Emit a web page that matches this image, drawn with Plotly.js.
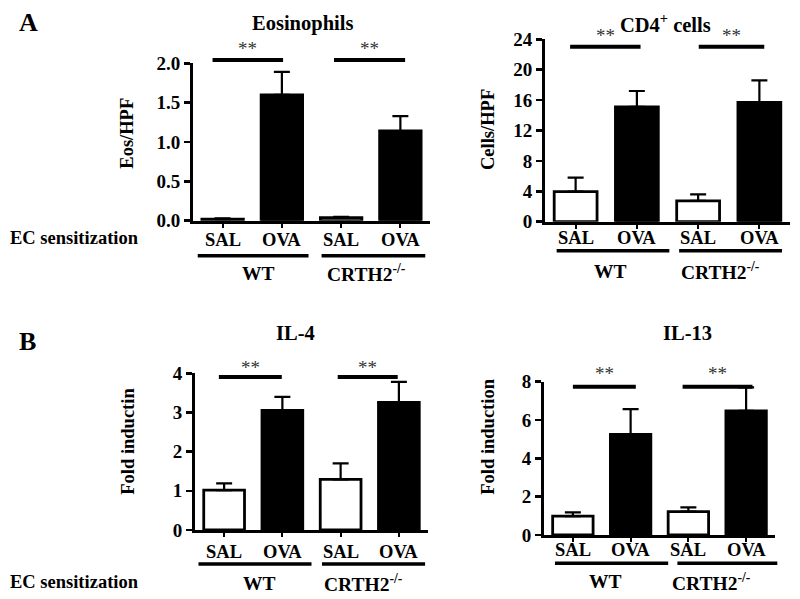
<!DOCTYPE html>
<html><head><meta charset="utf-8">
<script src="https://cdn.plot.ly/plotly-3.0.1.min.js"></script>
<style>html,body{margin:0;padding:0;background:#fff}#chart{width:800px;height:599px}</style>
</head><body><div id="chart"></div>
<script>
// ---- data ----
const categories = ['SAL', 'OVA', 'SAL', 'OVA'];
const groups = ['WT', 'CRTH2<sup>-/-</sup>'];
const panelTitles = ['Eosinophils', 'CD4<sup>+</sup> cells', 'IL-4', 'IL-13'];
const yTitles = ['Eos/HPF', 'Cells/HPF', 'Fold inductin', 'Fold induction'];
const eosMean = [0.02, 1.60, 0.04, 1.14];
const eosErr  = [0.01, 0.29, 0.01, 0.19];
const cd4Mean = [3.95, 15.1, 2.75, 15.7];
const cd4Err  = [1.85, 2.1, 0.85, 2.9];
const il4Mean = [1.02, 3.05, 1.29, 3.26];
const il4Err  = [0.17, 0.35, 0.41, 0.52];
const il13Mean = [0.99, 5.25, 1.22, 6.48];
const il13Err  = [0.19, 1.32, 0.22, 1.22];
const sigLabel = '**';
const rowLabel = 'EC sensitization';
const panelLetters = ['A', 'B'];

// ---- layout helpers ----
const W = 800, H = 599;
const px = x => x / W;
const py = y => 1 - y / H;
const catDom = c => (c + 0.5) / 4;   // category units -> x domain fraction (range -0.5..3.5)
const FONT = '"Liberation Serif", "Times New Roman", serif';
const fillColors = ['white', 'black', 'white', 'black'];

const panels = [
  {mean: eosMean, err: eosErr, xd: [193, 430], yd: [220.7, 63.3], range: [0, 2], dtick: 0.5, fmt: '.1f',
   title: [302.5, 23.5], ytitle: [126.7, 133], sigY: 60, sig: [[-0.17, 1.02], [1.88, 3.08]], starY: 47,
   ulY: 255.7, ul: [[-0.42, 1.45], [1.67, 3.42]], gY: 273, gC: [0.6, 2.42], labY: 240},
  {mean: cd4Mean, err: cd4Err, xd: [545, 790], yd: [221.7, 39.3], range: [0, 24], dtick: 4, fmt: 'd',
   title: [665.8, 23.5], ytitle: [488, 130], sigY: 46.7, sig: [[-0.09, 1.06], [2.01, 3.08]], starY: 35,
   ulY: 250.7, ul: [[-0.31, 1.53], [1.69, 3.37]], gY: 271, gC: [0.57, 2.37], labY: 238},
  {mean: il4Mean, err: il4Err, xd: [195, 428], yd: [530, 373.3], range: [0, 4], dtick: 1, fmt: 'd',
   title: [295.8, 333.3], ytitle: [128, 441.7], sigY: 377, sig: [[-0.09, 0.99], [1.95, 2.98]], starY: 366.7,
   ulY: 564, ul: [[-0.44, 1.5], [1.68, 3.45]], gY: 583, gC: [0.6, 2.4], labY: 551.5},
  {mean: il13Mean, err: il13Err, xd: [544, 775], yd: [535, 381.7], range: [0, 8], dtick: 2, fmt: 'd',
   title: [687.5, 333.3], ytitle: [488, 436.7], sigY: 386.7, sig: [[0.0, 1.09], [1.9, 3.11]], starY: 372.7,
   ulY: 563.3, ul: [[-0.31, 1.65], [1.81, 3.54]], gY: 581.7, gC: [0.57, 2.4], labY: 550}
];

const data = [];
const layout = {
  width: W, height: H, margin: {l: 0, r: 0, t: 0, b: 0},
  paper_bgcolor: 'white', plot_bgcolor: 'white', showlegend: false,
  bargap: 0.3, font: {family: FONT, color: 'black'},
  annotations: [], shapes: []
};

panels.forEach((p, i) => {
  const n = i === 0 ? '' : String(i + 1);
  const xa = 'x' + n, ya = 'y' + n;
  data.push({
    type: 'bar', x: [0, 1, 2, 3], y: p.mean, xaxis: xa, yaxis: ya,
    marker: {color: fillColors, line: {color: 'black', width: 2.8}},
    error_y: {type: 'data', symmetric: false, array: p.err, arrayminus: p.err.map(() => 0),
              color: 'black', thickness: 2.2, width: 8},
    cliponaxis: false, hoverinfo: 'skip'
  });
  layout['xaxis' + n] = {
    domain: [px(p.xd[0]), px(p.xd[1])], anchor: ya, range: [-0.5, 3.5],
    tickvals: [0, 1, 2, 3], showticklabels: false, ticks: 'outside', ticklen: 4, tickwidth: 2,
    tickcolor: 'black', showline: true, linewidth: 3, linecolor: 'black',
    showgrid: false, zeroline: false, fixedrange: true
  };
  layout['yaxis' + n] = {
    domain: [py(p.yd[0]), py(p.yd[1])], anchor: xa, range: p.range, dtick: p.dtick, tick0: 0,
    tickformat: p.fmt, ticks: 'outside', ticklen: 6, tickwidth: 2.5, tickcolor: 'black',
    showline: true, linewidth: 3, linecolor: 'black', showgrid: false, zeroline: false, fixedrange: true,
    tickfont: {family: FONT, size: 19, weight: 'bold', color: 'black'}
  };
  // category labels under bars
  categories.forEach((c, k) => layout.annotations.push({xref: xa + ' domain', yref: 'paper',
    x: catDom(k), y: py(p.labY), xanchor: 'center', yanchor: 'middle', showarrow: false, text: c,
    font: {family: FONT, size: 18.5, weight: 'bold', color: 'black'}}));
  // panel title
  layout.annotations.push({xref: 'paper', yref: 'paper', x: px(p.title[0]), y: py(p.title[1]),
    xanchor: 'center', yanchor: 'middle', showarrow: false, text: panelTitles[i],
    font: {family: FONT, size: 20.5, weight: 'bold', color: 'black'}});
  // y title
  layout.annotations.push({xref: 'paper', yref: 'paper', x: px(p.ytitle[0]), y: py(p.ytitle[1]),
    xanchor: 'center', yanchor: 'middle', showarrow: false, text: yTitles[i], textangle: -90,
    font: {family: FONT, size: 18.5, weight: 'bold', color: 'black'}});
  // significance bars and stars
  p.sig.forEach(s => {
    layout.shapes.push({type: 'line', xref: xa + ' domain', yref: 'paper',
      x0: catDom(s[0]), x1: catDom(s[1]), y0: py(p.sigY), y1: py(p.sigY),
      line: {color: 'black', width: 4}});
    layout.annotations.push({xref: xa + ' domain', yref: 'paper', x: catDom((s[0] + s[1]) / 2),
      y: py(p.starY + 1), xanchor: 'center', yanchor: 'middle', showarrow: false, text: sigLabel,
      font: {family: FONT, size: 19, color: '#333333'}});
  });
  // group underlines and labels
  p.ul.forEach((s, g) => {
    layout.shapes.push({type: 'line', xref: xa + ' domain', yref: 'paper',
      x0: catDom(s[0]), x1: catDom(s[1]), y0: py(p.ulY), y1: py(p.ulY),
      line: {color: 'black', width: 3.5}});
    layout.annotations.push({xref: xa + ' domain', yref: 'paper', x: catDom(p.gC[g]),
      y: py(p.gY), xanchor: 'center', yanchor: 'middle', showarrow: false, text: groups[g],
      font: {family: FONT, size: 19.5, weight: 'bold', color: 'black'}});
  });
});

// row labels and panel letters
[238, 581.7].forEach(y => layout.annotations.push({xref: 'paper', yref: 'paper', x: px(8), y: py(y),
  xanchor: 'left', yanchor: 'middle', showarrow: false, text: rowLabel,
  font: {family: FONT, size: 18.5, weight: 'bold', color: 'black'}}));
[[17, 22.7], [17, 341.7]].forEach((pos, k) => layout.annotations.push({xref: 'paper', yref: 'paper',
  x: px(pos[0]), y: py(pos[1]), xanchor: 'left', yanchor: 'middle', showarrow: false, text: panelLetters[k],
  font: {family: FONT, size: 26, weight: 'bold', color: 'black'}}));

Plotly.newPlot('chart', data, layout, {displayModeBar: false, staticPlot: true});
</script>
</body></html>
